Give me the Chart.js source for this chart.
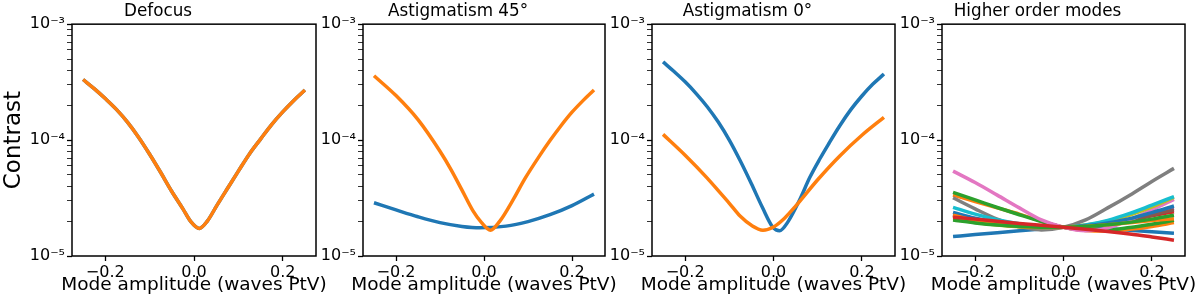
<!DOCTYPE html>
<html>
<head>
<meta charset="utf-8">
<script src="https://cdn.jsdelivr.net/npm/chart.js@4.4.1/dist/chart.umd.min.js"></script>
<style>
  body { margin: 0; background: #fff; }
  #wrap { position: relative; width: 1200px; height: 299px; }
  #wrap canvas { position: absolute; left: 0; top: 0; }
</style>
</head>
<body>
<div id="wrap">
  <canvas id="c1" width="1200" height="299"></canvas>
  <canvas id="c2" width="1200" height="299"></canvas>
  <canvas id="c3" width="1200" height="299"></canvas>
  <canvas id="c4" width="1200" height="299"></canvas>
</div>
<script>
// panel titles and tick labels
const panelTitles = ["Defocus", "Astigmatism 45°", "Astigmatism 0°", "Higher order modes"];
const xTicks = [-0.2, 0.0, 0.2];
const xTickLabels = ["\u22120.2", "0.0", "0.2"];
const yTickLabels = {"-3": "10\u207B\u00B3", "-4": "10\u207B\u2074", "-5": "10\u207B\u2075"};

// Defocus (both series lie on top of each other)
const xDefocus = [-0.25, -0.225, -0.2, -0.175, -0.15, -0.125, -0.1, -0.075, -0.05, -0.025, -0.008, 0.012, 0.03, 0.052, 0.075, 0.1, 0.125, 0.15, 0.175, 0.2, 0.225, 0.25];
const defocusBlue = [3.33e-4, 2.78e-4, 2.28e-4, 1.84e-4, 1.43e-4, 1.06e-4, 7.55e-5, 5.25e-5, 3.6e-5, 2.55e-5, 2.0e-5, 1.73e-5, 2.0e-5, 2.75e-5, 3.8e-5, 5.4e-5, 7.6e-5, 1.02e-4, 1.36e-4, 1.75e-4, 2.2e-4, 2.7e-4];
const defocusOrange = [3.33e-4, 2.78e-4, 2.28e-4, 1.84e-4, 1.43e-4, 1.06e-4, 7.55e-5, 5.25e-5, 3.6e-5, 2.55e-5, 2.0e-5, 1.73e-5, 2.0e-5, 2.75e-5, 3.8e-5, 5.4e-5, 7.6e-5, 1.02e-4, 1.36e-4, 1.75e-4, 2.2e-4, 2.7e-4];

// Astigmatism 45
const xAst45Blue = [-0.25, -0.2, -0.15, -0.1, -0.05, -0.01, 0.05, 0.1, 0.15, 0.2, 0.25];
const ast45Blue = [2.88e-5, 2.5e-5, 2.18e-5, 1.94e-5, 1.8e-5, 1.75e-5, 1.81e-5, 1.98e-5, 2.27e-5, 2.72e-5, 3.42e-5];
const xAst45Orange = [-0.25, -0.2, -0.15, -0.1, -0.075, -0.05, -0.025, -0.006, 0.0146, 0.036, 0.066, 0.093, 0.125, 0.15, 0.175, 0.2, 0.225, 0.25];
const ast45Orange = [3.59e-4, 2.42e-4, 1.5e-4, 8.0e-5, 5.56e-5, 3.7e-5, 2.45e-5, 1.95e-5, 1.67e-5, 2.0e-5, 3.05e-5, 4.65e-5, 7.2e-5, 9.9e-5, 1.33e-4, 1.74e-4, 2.19e-4, 2.7e-4];

// Astigmatism 0
const xAst0Blue = [-0.25, -0.225, -0.2, -0.175, -0.15, -0.125, -0.1, -0.075, -0.05, -0.025, -0.0015, 0.0137, 0.033, 0.059, 0.082, 0.105, 0.125, 0.15, 0.175, 0.2, 0.225, 0.25];
const ast0Blue = [4.73e-4, 3.9e-4, 3.18e-4, 2.52e-4, 1.94e-4, 1.43e-4, 1.0e-4, 6.6e-5, 4.2e-5, 2.62e-5, 1.77e-5, 1.65e-5, 1.98e-5, 3.04e-5, 4.75e-5, 6.9e-5, 9.3e-5, 1.33e-4, 1.83e-4, 2.4e-4, 3.04e-4, 3.71e-4];
const xAst0Orange = [-0.25, -0.2, -0.15, -0.123, -0.1, -0.075, -0.05, -0.024, 0, 0.025, 0.05, 0.1, 0.15, 0.2, 0.25];
const ast0Orange = [1.12e-4, 7.4e-5, 4.7e-5, 3.59e-5, 2.85e-5, 2.2e-5, 1.84e-5, 1.67e-5, 1.78e-5, 2.12e-5, 2.69e-5, 4.55e-5, 7.3e-5, 1.1e-4, 1.57e-4];

// Higher order modes
const xHigher = [-0.25, -0.2, -0.15, -0.1, -0.05, 0, 0.05, 0.1, 0.15, 0.2, 0.25];
const higherModes = [
  [1.47e-5, 1.53e-5, 1.59e-5, 1.65e-5, 1.71e-5, 1.77e-5, 1.76e-5, 1.72e-5, 1.67e-5, 1.62e-5, 1.57e-5],
  [3.36e-5, 2.95e-5, 2.6e-5, 2.3e-5, 2.0e-5, 1.77e-5, 1.66e-5, 1.64e-5, 1.7e-5, 1.8e-5, 1.94e-5],
  [3.54e-5, 3.05e-5, 2.62e-5, 2.27e-5, 1.98e-5, 1.77e-5, 1.68e-5, 1.68e-5, 1.76e-5, 1.88e-5, 2.03e-5],
  [2.2e-5, 2.0e-5, 1.88e-5, 1.8e-5, 1.76e-5, 1.77e-5, 1.82e-5, 1.92e-5, 2.05e-5, 2.22e-5, 2.41e-5],
  [2.3e-5, 2.1e-5, 1.95e-5, 1.84e-5, 1.78e-5, 1.77e-5, 1.82e-5, 1.92e-5, 2.08e-5, 2.3e-5, 2.58e-5],
  [2.25e-5, 2.05e-5, 1.92e-5, 1.83e-5, 1.78e-5, 1.77e-5, 1.81e-5, 1.9e-5, 2.05e-5, 2.25e-5, 2.5e-5],
  [5.4e-5, 4.3e-5, 3.35e-5, 2.6e-5, 2.05e-5, 1.77e-5, 1.65e-5, 1.75e-5, 2.05e-5, 2.5e-5, 3.08e-5],
  [3.18e-5, 2.55e-5, 2.08e-5, 1.8e-5, 1.68e-5, 1.77e-5, 2.05e-5, 2.6e-5, 3.35e-5, 4.4e-5, 5.7e-5],
  [2.1e-5, 1.95e-5, 1.85e-5, 1.79e-5, 1.76e-5, 1.77e-5, 1.85e-5, 2.0e-5, 2.25e-5, 2.65e-5, 3.2e-5],
  [2.63e-5, 2.3e-5, 2.06e-5, 1.9e-5, 1.8e-5, 1.77e-5, 1.85e-5, 2.03e-5, 2.33e-5, 2.75e-5, 3.25e-5],
  [2.38e-5, 2.12e-5, 1.95e-5, 1.84e-5, 1.78e-5, 1.77e-5, 1.82e-5, 1.93e-5, 2.1e-5, 2.37e-5, 2.7e-5],
  [2.25e-5, 2.02e-5, 1.88e-5, 1.8e-5, 1.77e-5, 1.77e-5, 1.8e-5, 1.86e-5, 1.94e-5, 2.02e-5, 2.1e-5],
  [2.04e-5, 1.93e-5, 1.85e-5, 1.8e-5, 1.77e-5, 1.77e-5, 1.8e-5, 1.86e-5, 1.95e-5, 2.08e-5, 2.25e-5],
  [2.16e-5, 2.08e-5, 1.99e-5, 1.91e-5, 1.84e-5, 1.77e-5, 1.7e-5, 1.63e-5, 1.55e-5, 1.46e-5, 1.37e-5]
];

const tab10 = ["#1f77b4", "#ff7f0e", "#2ca02c", "#d62728", "#9467bd", "#8c564b", "#e377c2", "#7f7f7f", "#bcbd22", "#17becf"];

Chart.defaults.font.family = "'DejaVu Sans', sans-serif";
Chart.defaults.color = "#000";

function pts(xs, ys) {
  return xs.map((x, i) => ({x: x, y: ys[i]}));
}

// later series are drawn on top, like matplotlib
function line(xs, ys, color, i) {
  return {
    data: pts(xs, ys),
    borderColor: color,
    borderWidth: 3.5,
    pointRadius: 0,
    showLine: true,
    fill: false,
    cubicInterpolationMode: 'monotone',
    order: -i
  };
}

// frame on all four sides + x axis title
const framePlugin = {
  id: 'frame',
  afterDraw(chart) {
    const a = chart.chartArea;
    const ctx = chart.ctx;
    ctx.save();
    ctx.strokeStyle = '#000';
    ctx.lineWidth = 1.5;
    ctx.strokeRect(a.left, a.top, a.right - a.left, a.bottom - a.top);
    ctx.fillStyle = '#000';
    ctx.font = "18.5px 'DejaVu Sans'";
    ctx.textAlign = 'center';
    ctx.textBaseline = 'middle';
    ctx.fillText('Mode amplitude (waves PtV)', (a.left + a.right) / 2, 285);
    ctx.restore();
  }
};

const plotLeft = [72, 363, 652, 942];
const plotRight = [316, 605, 895, 1185];

function makeChart(id, idx, datasets) {
  const yW = idx === 0 ? 72 : 52;
  new Chart(document.getElementById(id), {
    type: 'scatter',
    data: {datasets: datasets},
    plugins: [framePlugin],
    options: {
      responsive: false,
      animation: false,
      devicePixelRatio: 1,
      layout: {padding: {left: plotLeft[idx] - yW, right: 1200 - plotRight[idx], top: 0, bottom: 0}},
      plugins: {
        legend: {display: false},
        tooltip: {enabled: false},
        title: {
          display: true,
          text: panelTitles[idx],
          font: {size: 16.8, weight: 'normal'},
          color: '#000',
          padding: {top: 2, bottom: 2}
        }
      },
      scales: {
        x: {
          type: 'linear',
          min: -0.275,
          max: 0.275,
          afterBuildTicks: s => { s.ticks = xTicks.map(v => ({value: v})); },
          afterFit: s => { s.height = 43; },
          ticks: {
            font: {size: 16},
            color: '#000',
            padding: 2,
            maxRotation: 0,
            callback: (v) => {
              const i = xTicks.findIndex(t => Math.abs(t - v) < 1e-9);
              return i >= 0 ? xTickLabels[i] : '';
            }
          },
          grid: {drawOnChartArea: false, drawTicks: true, tickLength: 5, color: '#000', tickWidth: 1.3},
          border: {display: false}
        },
        y: {
          type: 'logarithmic',
          min: 1e-5,
          max: 1e-3,
          afterBuildTicks: s => {
            const t = [];
            for (let e = -5; e <= -4; e++) {
              for (let m = 1; m <= 9; m++) t.push({value: m * Math.pow(10, e)});
            }
            t.push({value: 1e-3});
            s.ticks = t;
          },
          afterFit: s => { s.width = yW; },
          title: {
            display: idx === 0,
            text: 'Contrast',
            font: {size: 23},
            color: '#000',
            padding: {top: 0, bottom: 0}
          },
          ticks: {
            font: {size: 16},
            color: '#000',
            padding: 2,
            autoSkip: false,
            callback: (v) => {
              const l = Math.log10(v);
              const r = Math.round(l);
              return Math.abs(l - r) < 1e-6 ? yTickLabels[String(r)] : '';
            }
          },
          grid: {
            drawOnChartArea: false,
            drawTicks: true,
            tickLength: 5,
            color: '#000',
            tickWidth: ctx => {
              const l = Math.log10(ctx.tick.value);
              return Math.abs(l - Math.round(l)) < 1e-6 ? 1.3 : 0.8;
            }
          },
          border: {display: false}
        }
      }
    }
  });
}

makeChart('c1', 0, [
  line(xDefocus, defocusBlue, tab10[0], 0),
  line(xDefocus, defocusOrange, tab10[1], 1)
]);
makeChart('c2', 1, [
  line(xAst45Blue, ast45Blue, tab10[0], 0),
  line(xAst45Orange, ast45Orange, tab10[1], 1)
]);
makeChart('c3', 2, [
  line(xAst0Blue, ast0Blue, tab10[0], 0),
  line(xAst0Orange, ast0Orange, tab10[1], 1)
]);
makeChart('c4', 3, higherModes.map((ys, i) => line(xHigher, ys, tab10[i % 10], i)));
</script>
</body>
</html>
